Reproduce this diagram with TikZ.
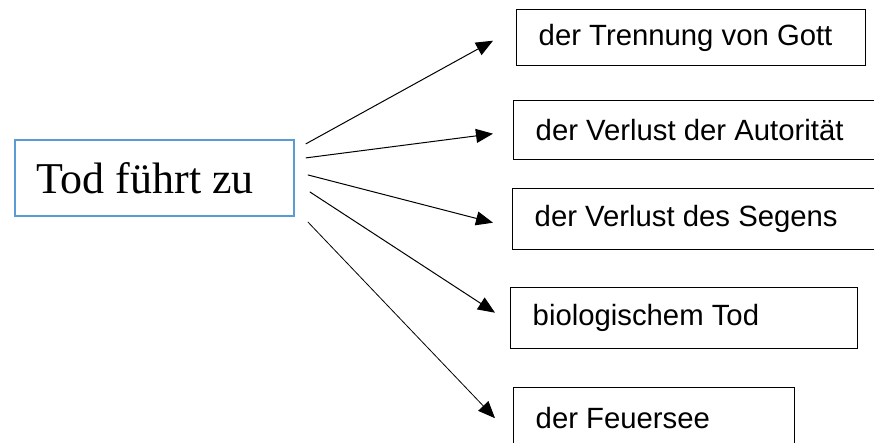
\documentclass[tikz,border=0pt]{standalone}
\usepackage{fontspec}
\setmainfont{Liberation Sans}
\newfontfamily\srcfont{Liberation Serif}
\usetikzlibrary{arrows.meta}
\definecolor{srcblue}{RGB}{91,155,213}
\tikzset{
  srcbox/.style={draw=srcblue, line width=1.8pt, rectangle, anchor=north west, align=flush left, text width=235pt, minimum height=76pt, inner xsep=22pt, font=\srcfont\fontsize{44}{50}\selectfont},
  tgtbox/.style={draw=black, line width=1.4pt, rectangle, anchor=north west, align=flush left, inner xsep=22pt, font=\fontsize{29.3}{35}\selectfont},
  arr/.style={-{Triangle[length=17pt, width=14pt]}, line width=1pt, draw=black}
}

\begin{document}
\begin{tikzpicture}[x=1pt, y=-1pt]
  \clip (0,0) rectangle (874,442);
  \useasboundingbox (0,0) rectangle (874,442);
  % source
  \node[srcbox] (src) at (14,139) {Tod führt zu};
  % targets
  \node[tgtbox, text width=305pt, minimum height=56pt] (b1) at (516,9) {der Trennung von Gott};
  \node[tgtbox, text width=326pt, minimum height=59pt] (b2) at (513,100) {der Verlust der Autorität};
  \node[tgtbox, text width=326pt, minimum height=61pt] (b3) at (512,188) {der Verlust des Segens};
  \node[tgtbox, text width=303pt, minimum height=61pt] (b4) at (510,287) {biologischem Tod};
  \node[tgtbox, text width=237pt, minimum height=60pt] (b5) at (513,387) {der Feuersee};
  % arrow ends
  \coordinate (s1) at ([shift={(11,-34)}]src.east);
  \coordinate (s2) at ([shift={(11,-20)}]src.east);
  \coordinate (s3) at ([shift={(13,-3)}]src.east);
  \coordinate (s4) at ([shift={(15,14)}]src.east);
  \coordinate (s5) at ([shift={(13,44)}]src.east);
  \coordinate (t1) at ([shift={(-23,3)}]b1.west);
  \coordinate (t2) at ([shift={(-20,3.5)}]b2.west);
  \coordinate (t3) at ([shift={(-19,3.5)}]b3.west);
  \coordinate (t4) at ([shift={(-15,-5.5)}]b4.west);
  \coordinate (t5) at ([shift={(-18,0.5)}]b5.west);
  \draw[arr] (s1) -- (t1);
  \draw[arr] (s2) -- (t2);
  \draw[arr] (s3) -- (t3);
  \draw[arr] (s4) -- (t4);
  \draw[arr, line width=0.8pt] (s5) -- (t5);
\end{tikzpicture}
\end{document}
